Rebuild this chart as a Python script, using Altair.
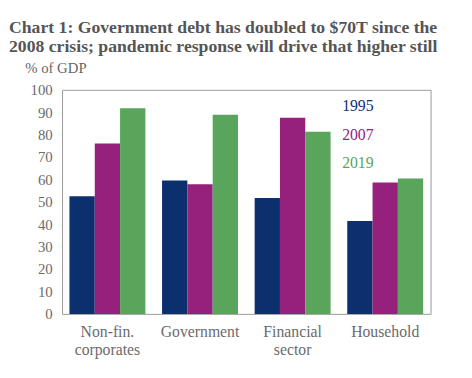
import altair as alt
import pandas as pd

sectors = ["Non-fin.|corporates", "Government", "Financial|sector", "Household"]
years = ["1995", "2007", "2019"]
v1995 = [52.5, 59.5, 51.7, 41.5]
v2007 = [76, 57.8, 87.5, 58.6]
v2019 = [91.8, 88.9, 81.3, 60.4]
colors = ["#0c2f6e", "#96217d", "#58a55b"]

rows = []
for i, s in enumerate(sectors):
    for y, vals in zip(years, [v1995, v2007, v2019]):
        rows.append({"sector": s, "year": y, "value": vals[i]})
df = pd.DataFrame(rows)
leg = pd.DataFrame({"year": years})

FONT = "Liberation Serif"
color_scale = alt.Scale(domain=years, range=colors)

bars = alt.Chart(df).mark_bar().encode(
    x=alt.X("sector:N", sort=sectors,
            scale=alt.Scale(paddingInner=0.18, paddingOuter=0.08),
            axis=alt.Axis(title=None, labelAngle=0, ticks=False, domain=False,
                          labelExpr="split(datum.value, '|')",
                          labelFont=FONT, labelFontSize=16, labelColor="#6b6b6b",
                          labelPadding=10, labelLineHeight=18)),
    xOffset=alt.XOffset("year:N", sort=years),
    y=alt.Y("value:Q", scale=alt.Scale(domain=[0, 100]),
            axis=alt.Axis(values=list(range(0, 101, 10)), grid=False, ticks=False,
                          domain=False, labelFont=FONT, labelFontSize=15,
                          labelColor="#6b6b6b", labelPadding=10,
                          title="% of GDP", titleAngle=0, titleX=-38, titleY=-15,
                          titleAlign="left", titleFont=FONT, titleFontSize=15,
                          titleFontWeight="normal", titleColor="#666666")),
    color=alt.Color("year:N", scale=color_scale, legend=None),
)

legend_text = alt.Chart(leg).transform_calculate(
    ypix="17 + 29 * indexof(['1995','2007','2019'], datum.year)"
).mark_text(font=FONT, fontSize=16, align="left", baseline="middle").encode(
    x=alt.value(285),
    y=alt.Y("ypix:Q", scale=None),
    text="year:N",
    color=alt.Color("year:N", scale=color_scale, legend=None),
)

chart = alt.layer(bars, legend_text).properties(
    width=375, height=228,
    autosize=alt.AutoSizeParams(type="none"),
    padding={"left": 55, "top": 80, "right": 34, "bottom": 62},
    title=alt.TitleParams(
        text=["Chart 1: Government debt has doubled to $70T since the",
              "2008 crisis; pandemic response will drive that higher still"],
        anchor="start", frame="group", dx=-54, dy=-4, font=FONT, fontSize=18,
        fontWeight="bold", color="#555555", lineHeight=20, offset=0),
).configure_view(stroke="#999999", strokeWidth=1)

chart.save("out.html", embed_options={"renderer": "svg", "actions": False})
